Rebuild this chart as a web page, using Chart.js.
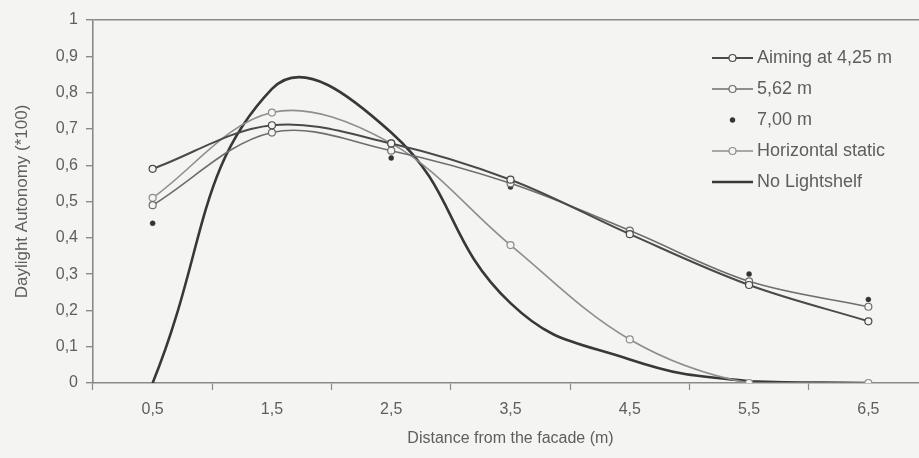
<!DOCTYPE html>
<html>
<head>
<meta charset="utf-8">
<script src="https://cdn.jsdelivr.net/npm/chart.js@4.4.1/dist/chart.umd.min.js"></script>
<style>
  html, body { margin: 0; padding: 0; background: #f4f4f3; overflow: hidden; }
  #wrap { width: 935px; height: 458px; }
</style>
</head>
<body>
<div id="wrap"><canvas id="myChart" width="935" height="458"></canvas></div>
<script>
// distances from the facade (categories on the x axis)
const distances = ["0,5", "1,5", "2,5", "3,5", "4,5", "5,5", "6,5"];

// daylight autonomy (*100) per case
const aiming425 = [0.59, 0.71, 0.66, 0.56, 0.41, 0.27, 0.17];
const aiming562 = [0.49, 0.69, 0.64, 0.55, 0.42, 0.28, 0.21];
const aiming700 = [0.44, 0.69, 0.62, 0.54, 0.42, 0.30, 0.23];
const horizontalStatic = [0.51, 0.745, 0.66, 0.38, 0.12, 0, 0];
const noLightshelf = [0, 0.81, 0.69, 0.22, 0.065, 0.005, 0];

const yTicks = [0, 0.1, 0.2, 0.3, 0.4, 0.5, 0.6, 0.7, 0.8, 0.9, 1];

const bg = "#f4f4f3";
const axisGrey = "#8a8a8a";
const textGrey = "#5e5e5e";

Chart.defaults.font.family = "'Liberation Sans', Arial, sans-serif";
Chart.defaults.color = textGrey;

// legend drawn inside the plot, top right
const insideLegend = {
  id: "insideLegend",
  afterDraw(chart) {
    const ctx = chart.ctx;
    const x0 = 712, x1 = 753, top = 58, step = 31;
    ctx.save();
    ctx.font = "18px 'Liberation Sans', Arial, sans-serif";
    ctx.textBaseline = "middle";
    chart.data.datasets.forEach((ds, i) => {
      const y = top + i * step;
      if (ds.showLine !== false) {
        ctx.strokeStyle = ds.borderColor;
        ctx.lineWidth = ds.borderWidth;
        ctx.beginPath();
        ctx.moveTo(x0, y);
        ctx.lineTo(x1, y);
        ctx.stroke();
      }
      if (ds.pointRadius > 0) {
        ctx.beginPath();
        ctx.arc((x0 + x1) / 2, y, ds.pointRadius, 0, Math.PI * 2);
        ctx.fillStyle = ds.pointBackgroundColor;
        ctx.fill();
        ctx.lineWidth = ds.pointBorderWidth;
        ctx.strokeStyle = ds.pointBorderColor;
        ctx.stroke();
      }
      ctx.fillStyle = textGrey;
      ctx.fillText(ds.label, 757, y);
    });
    ctx.restore();
  }
};

const openMarker = (color) => ({
  pointRadius: 3.5,
  pointBackgroundColor: bg,
  pointBorderColor: color,
  pointBorderWidth: 1.2,
  pointHoverRadius: 3.5
});

const ctx = document.getElementById("myChart").getContext("2d");
const myChart = new Chart(ctx, {
  type: "line",
  data: {
    labels: distances,
    datasets: [
      Object.assign({
        label: "Aiming at 4,25 m",
        data: aiming425,
        borderColor: "#4a4a4a",
        borderWidth: 2,
        tension: 0.35
      }, openMarker("#4a4a4a")),
      Object.assign({
        label: "5,62 m",
        data: aiming562,
        borderColor: "#6e6e6e",
        borderWidth: 1.6,
        tension: 0.35
      }, openMarker("#6e6e6e")),
      {
        label: "7,00 m",
        data: aiming700,
        showLine: false,
        borderColor: "#333",
        borderWidth: 0,
        pointRadius: 2.5,
        pointBackgroundColor: "#333",
        pointBorderColor: "#333",
        pointBorderWidth: 0.5
      },
      Object.assign({
        label: "Horizontal static",
        data: horizontalStatic,
        borderColor: "#8e8e8e",
        borderWidth: 1.6,
        tension: 0.35
      }, openMarker("#8e8e8e")),
      {
        label: "No Lightshelf",
        data: noLightshelf,
        borderColor: "#383838",
        borderWidth: 2.6,
        pointRadius: 0,
        tension: 0.45
      }
    ]
  },
  options: {
    responsive: false,
    animation: false,
    layout: { padding: { left: 12, top: 20, right: 7, bottom: 10 } },
    plugins: {
      legend: { display: false },
      tooltip: { enabled: false }
    },
    scales: {
      x: {
        offset: true,
        grid: {
          offset: true,
          color: "rgba(0,0,0,0)",
          tickColor: axisGrey,
          tickLength: 7,
          tickWidth: 1.2
        },
        border: { color: axisGrey, width: 1.6 },
        ticks: { padding: 10, font: { size: 16 }, color: textGrey },
        title: {
          display: true,
          text: "Distance from the facade (m)",
          font: { size: 16 },
          color: textGrey,
          padding: 0
        },
        afterFit(scale) { scale.height = 65; }
      },
      y: {
        min: 0,
        max: 1,
        afterBuildTicks(scale) { scale.ticks = yTicks.map(v => ({ value: v })); },
        grid: {
          color: c => (c.tick && c.tick.value === 1 ? axisGrey : "rgba(0,0,0,0)"),
          tickColor: axisGrey,
          tickLength: 7,
          lineWidth: 1.4
        },
        border: { color: axisGrey, width: 1.6 },
        ticks: {
          padding: 8,
          font: { size: 16 },
          color: textGrey,
          callback: v => String(Math.round(v * 10) / 10).replace(".", ",")
        },
        title: {
          display: true,
          text: "Daylight Autonomy (*100)",
          font: { size: 17 },
          color: textGrey,
          padding: 0
        },
        afterFit(scale) { scale.width = 81; }
      }
    }
  },
  plugins: [insideLegend]
});
</script>
</body>
</html>
